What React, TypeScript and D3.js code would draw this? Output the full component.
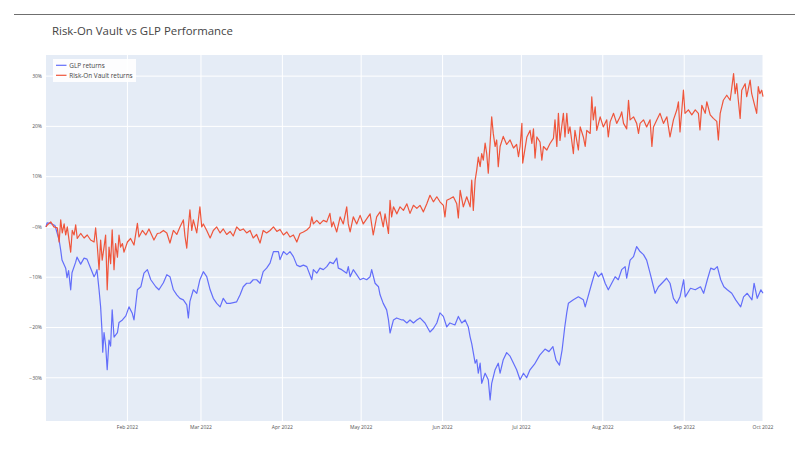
import React from "react";
import * as d3 from "d3";

// [day offset from 1 Jan 2022, return %]
const glpReturns: [number, number][] = [
  [0, 0], [0.4, 0.8], [1.9, 0.7], [3.4, 0.3], [5.0, -2.6], [5.6, -4.6], [6.1, -6.6], [7.5, -8.2], [8.0, -10.1], [8.6, -8.7],
  [9.4, -12.5], [9.9, -9.1], [11.3, -7], [11.8, -6], [13.2, -7.4], [14.5, -6.2], [15.6, -6.4], [17.0, -8.2], [18.3, -9.9], [18.9, -9.3],
  [19.4, -8.5], [20.2, -12.5], [20.8, -15.9], [21.3, -20.5], [21.6, -24.9], [22.1, -21], [22.7, -23.5], [23.3, -28.4], [24.0, -22.5], [24.6, -23.7],
  [25.2, -16.5], [25.9, -21.9], [27.2, -21], [27.8, -19], [29.1, -18.5], [30.4, -17.7], [31.6, -15.9], [32.8, -17.1], [33.5, -18.5], [34.8, -12.5],
  [36.1, -11.9], [37.3, -9.2], [38.6, -8.5], [39.9, -10.5], [41.8, -11.9], [43.0, -12.5], [44.7, -11.1], [46.0, -9.5], [47.2, -9.9], [48.5, -12.5],
  [49.8, -13.5], [51.0, -14.2], [52.3, -14.5], [53.6, -15.5], [54.2, -18.1], [54.8, -14.8], [56.1, -12.5], [57.4, -13.2], [58.6, -10.5], [59.9, -8.9],
  [61.2, -9.9], [62.5, -12.5], [63.7, -14.2], [65.0, -15.2], [66.3, -15.9], [67.5, -14.2], [68.8, -15.2], [70.1, -15.2], [72.6, -14.9], [73.9, -13.5],
  [75.1, -11.9], [76.4, -11.2], [77.7, -11.2], [78.9, -10.5], [80.2, -10.5], [81.5, -11.2], [82.7, -8.9], [84.0, -8.2], [85.3, -7.2], [86.6, -4.9],
  [88.5, -4.9], [89.1, -6.5], [90.4, -4.9], [91.7, -5.5], [92.9, -4.9], [94.2, -5.9], [95.5, -7.6], [96.7, -7.9], [98.0, -7.6], [99.3, -7.9],
  [101.2, -10.5], [101.8, -8.5], [103.1, -9.2], [104.3, -8.2], [105.6, -8.5], [106.9, -7.9], [108.1, -7.0], [109.4, -7.3], [110.7, -6.2], [111.3, -8.2],
  [112.6, -8.5], [114.5, -9.2], [115.1, -7.9], [115.8, -9.9], [117.0, -8.5], [118.3, -9.5], [119.6, -10.5], [120.8, -10.2], [122.1, -10.5], [123.4, -9.9],
  [124.0, -8.5], [125.3, -11.2], [126.6, -11.9], [127.2, -13.5], [128.4, -15.2], [129.7, -16.5], [130.4, -18.5], [131.0, -21.1], [132.3, -18.5], [133.5, -18.1],
  [135.5, -18.5], [136.1, -18.5], [137.4, -19.1], [138.6, -18.5], [139.9, -19.1], [141.2, -18.5], [142.4, -18.1], [144.3, -19.1], [146.2, -20.9], [147.5, -20.2],
  [148.8, -19.1], [150.0, -17.1], [151.3, -17.8], [152.6, -19.9], [153.8, -19.1], [155.7, -19.5], [157.0, -17.8], [158.3, -19.1], [159.6, -18.5], [160.8, -19.9],
  [161.5, -21.9], [162.1, -23.2], [163.4, -27.1], [164.0, -26.4], [164.6, -29.1], [165.3, -27.1], [165.9, -31.1], [167.2, -29.1], [168.4, -30.4], [169.1, -34.4],
  [169.7, -31.1], [171.0, -28.4], [172.2, -27.1], [172.9, -29.1], [174.1, -26.4], [175.4, -25.0], [176.7, -25.7], [178.0, -27.1], [179.2, -28.4], [180.5, -30.4],
  [181.8, -29.1], [183.0, -30.0], [184.2, -28.5], [186.0, -27.3], [188.0, -25.5], [190.0, -24.3], [191.5, -24.8], [193.0, -23.8], [194.2, -26.5], [195.5, -27.5],
  [196.5, -24.5], [197.5, -20], [198.3, -17], [198.9, -15.2], [200.8, -14.5], [202.7, -13.9], [204.6, -14.5], [205.3, -15.9], [207.8, -11.2], [209.1, -8.9],
  [210.3, -9.9], [211.6, -9.2], [212.9, -11.2], [214.1, -12.5], [215.4, -11.2], [216.7, -9.9], [217.9, -10.5], [219.2, -8.5], [220.5, -7.9], [221.1, -10.2],
  [222.4, -6.6], [223.7, -5.9], [224.9, -3.9], [226.2, -4.9], [227.5, -5.5], [228.7, -6.6], [230.0, -9.2], [231.3, -11.9], [231.9, -13.2], [233.2, -11.9],
  [234.5, -11.2], [236.3, -10.2], [237.6, -11.2], [238.9, -14.2], [240.2, -15.2], [241.4, -13.9], [242.8, -10.5], [243.4, -13.9], [245.4, -12.2], [247.2, -12.5],
  [249.2, -11.9], [250.4, -13.2], [251.8, -10.5], [253.1, -8.2], [254.4, -8.5], [255.6, -7.9], [256.9, -10.5], [258.1, -11.9], [259.4, -12.5], [261.1, -13.2],
  [262.6, -14.5], [264.5, -15.9], [265.6, -13.9], [267.0, -13.2], [268.8, -14.5], [269.6, -11.2], [270.8, -14.2], [272.2, -12.5], [273.0, -13.2],
];

const vaultReturns: [number, number][] = [
  [0, 0], [0.5, 0.4], [1.8, 1.0], [3.0, 0], [4.3, -0.2], [5.0, -3], [5.6, 1.4], [6.2, -1.2], [6.9, 0.6], [7.5, -1.6],
  [8.1, 0], [9.4, -5], [10.0, -0.7], [10.7, -1.6], [11.3, 0.4], [11.9, -2.3], [13.2, -1.3], [14.5, -2.2], [15.7, -1.6], [17.0, -2.6],
  [18.3, -3], [18.9, -0.2], [19.5, -3.6], [20.2, -8.5], [20.8, -2.6], [21.4, -6.6], [22.1, -4], [22.7, -1.6], [23.3, -12.5], [24.0, -4],
  [24.6, -7.3], [25.2, -0.6], [25.9, -8.5], [26.5, -3.3], [27.2, -6], [27.8, -1.6], [28.4, -4], [29.1, -3.3], [29.7, -5], [31.0, -3],
  [32.2, -2.3], [33.5, -3.6], [34.8, 0.7], [35.4, -2], [36.7, -0.7], [38.0, -1.6], [39.2, -0.4], [41.1, -2.6], [42.4, -1.3], [43.4, -1.2],
  [44.7, -0.7], [46.0, -1.2], [47.2, -3.2], [48.5, -0.7], [49.8, -1.5], [51.0, 0], [52.3, 1.4], [52.9, -1.8], [53.6, -4.2], [54.2, 0],
  [54.8, 3.4], [55.5, -0.7], [56.1, 1.4], [57.4, -1.2], [58.6, 4.0], [59.3, 0], [59.9, 0.6], [61.2, -0.7], [62.5, -2.2], [63.7, -0.7],
  [65.0, 0], [66.3, -1.2], [67.5, -0.4], [68.8, -1.5], [70.1, -0.9], [71.3, -1.8], [72.6, 0], [73.9, -0.7], [75.1, -0.4], [76.4, -1.2],
  [77.7, -0.7], [78.9, -2.2], [80.2, -1.5], [81.5, -3.2], [82.7, -0.7], [84.0, -1.2], [85.3, -0.7], [86.6, 0], [87.9, -0.9], [89.1, -0.5],
  [90.4, -1.6], [91.7, -1], [92.9, -2], [94.2, -1.6], [95.5, -3], [96.7, -1.3], [98.0, -1], [99.3, -0.6], [100.5, 0], [101.2, 2],
  [101.8, 0.6], [103.1, 1.3], [104.3, 0.6], [105.6, 1.3], [106.9, 1], [108.1, 2.7], [108.8, 0], [109.4, 1], [110.7, -1.0], [112.0, 2],
  [113.2, 0.6], [114.5, 4], [115.1, 0.6], [115.8, -1], [117.0, 2], [118.3, 0.6], [119.6, 2.3], [120.8, 0.6], [122.1, 1.6], [123.4, 2.6],
  [124.6, -1.6], [125.9, 2], [127.2, 3], [128.4, 0], [129.1, 2.6], [130.4, -1.3], [131.0, 5.3], [131.6, 2], [132.3, 4], [133.6, 2.6],
  [134.8, 4], [136.1, 3.3], [137.4, 4.6], [138.6, 2.7], [139.9, 4.3], [141.2, 3.7], [142.4, 4.3], [143.7, 3], [145.0, 4.6], [146.2, 6.3],
  [147.5, 5], [148.8, 6], [150.0, 5], [151.3, 4.3], [151.9, 2], [152.6, 5.3], [153.8, 5.6], [155.1, 6], [156.4, 4.6], [157.0, 1.8],
  [157.7, 7.3], [158.9, 4], [160.2, 6], [161.5, 4], [162.1, 9.3], [162.7, 3.3], [163.4, 9.3], [164.0, 11.3], [164.6, 13.9], [165.3, 12],
  [165.9, 14.6], [166.5, 13.3], [167.2, 16.7], [167.8, 14.6], [168.4, 10.7], [169.1, 16.7], [169.7, 21.9], [170.3, 18.6], [171.0, 16], [171.6, 17.3],
  [172.2, 12], [172.9, 16], [174.1, 18], [175.4, 16.4], [176.7, 17.3], [178.0, 15.7], [179.2, 16.4], [179.9, 14], [180.5, 16], [181.2, 20.6],
  [181.5, 12.7], [183.1, 17.9], [184.3, 19.2], [185.0, 16.6], [185.6, 19.5], [186.2, 13.7], [186.9, 17.9], [188.1, 16.9], [188.8, 13.3], [189.4, 16],
  [190.7, 15.3], [191.9, 16.6], [193.2, 17.6], [193.8, 21.3], [194.5, 16], [195.1, 22.6], [195.7, 17.2], [197.0, 22.6], [197.6, 17.9], [198.3, 22.6],
  [198.9, 18.6], [199.5, 19.9], [200.8, 14.6], [201.4, 19.2], [202.7, 15.3], [203.4, 19.9], [204.6, 17.9], [205.3, 16], [205.9, 19.2], [207.2, 18.6],
  [207.8, 25.9], [208.4, 21.3], [209.1, 23.9], [209.7, 19.2], [211.0, 21.9], [212.2, 19.9], [213.5, 21.3], [214.1, 17.9], [214.8, 20.9], [216.1, 22.6],
  [217.3, 20.6], [218.6, 21.9], [219.2, 22.9], [219.9, 20.6], [221.1, 19.5], [221.8, 25.2], [222.4, 21.3], [223.7, 21.9], [224.9, 20.6], [225.6, 18.6],
  [226.2, 20.6], [227.5, 21.3], [228.7, 19.9], [230.0, 21.3], [230.7, 16], [231.3, 19.9], [232.6, 21.3], [233.8, 22.6], [235.1, 20.6], [236.4, 21.9],
  [237.6, 17.9], [238.9, 21.3], [240.2, 23.3], [240.8, 24.9], [241.4, 18.9], [242.1, 23.3], [242.7, 27.2], [243.3, 22.6], [244.6, 23.3], [245.9, 22.3],
  [247.2, 23.3], [248.4, 22.6], [249.0, 19.3], [249.7, 24.2], [251.0, 22.6], [251.6, 24.9], [252.9, 22.3], [254.1, 21.6], [255.4, 21], [256.0, 17.3],
  [256.7, 22.6], [257.3, 23.9], [257.9, 25.2], [259.2, 26.2], [260.5, 25.2], [261.8, 30.5], [262.4, 26.5], [263.0, 28.5], [263.6, 25.2], [264.3, 21.6],
  [264.9, 27.2], [266.2, 28.5], [266.8, 25.9], [268.1, 29.2], [268.7, 26.5], [270.6, 22.6], [271.2, 27.9], [271.8, 26.5], [272.5, 27.2], [273.0, 25.9],
];

const yTickValues = [-30, -20, -10, 0, 10, 20, 30];
const yTickLabels = ["−30%", "−20%", "−10%", "−0%", "10%", "20%", "30%"];
const seriesNames = ["GLP returns", "Risk-On Vault returns"];
const seriesColors = ["#636efa", "#ef553b"];

const W = 805;
const H = 453;
const margin = { top: 55, right: 42, bottom: 32, left: 46 };
const font = "'Open Sans', 'Noto Sans', sans-serif";

const start = new Date(2022, 0, 1);
const end = new Date(2022, 9, 1);
const toDate = (day: number) => new Date(start.getTime() + day * 86400000);

export default function App() {
  const x = d3.scaleTime().domain([start, end]).range([margin.left, W - margin.right]);
  const y = d3.scaleLinear().domain([-38.6, 34.2]).range([H - margin.bottom, margin.top]);

  const line = d3
    .line<[number, number]>()
    .x((d) => x(toDate(d[0])))
    .y((d) => y(d[1]));

  const monthTicks = d3.timeMonth.range(new Date(2022, 1, 1), new Date(2022, 9, 2));
  const fmt = d3.timeFormat("%b %Y");
  const [x0, x1] = x.range();
  const [y0, y1] = y.range();

  return (
    <div style={{ position: "fixed", left: 0, top: 0 }}>
      <svg width={W} height={H} style={{ display: "block", background: "#fff" }}>
        <line x1={14} x2={795} y1={14.5} y2={14.5} stroke="#6f6f6f" strokeWidth={1} />
        <text x={52} y={35} fontFamily={font} fontSize={11.4} fill="#444">
          Risk-On Vault vs GLP Performance
        </text>

        <rect x={x0} y={y1} width={x1 - x0} height={y0 - y1} fill="#e5ecf6" />

        {monthTicks.map((m) => (
          <line key={+m} x1={x(m)} x2={x(m)} y1={y1} y2={y0} stroke="#fff" strokeWidth={1} />
        ))}
        {yTickValues.map((v) => (
          <line key={v} x1={x0} x2={x1} y1={y(v)} y2={y(v)} stroke="#fff" strokeWidth={v === 0 ? 1.6 : 1} />
        ))}

        <path d={line(glpReturns) || ""} fill="none" stroke={seriesColors[0]} strokeWidth={1.2} strokeLinejoin="round" />
        <path d={line(vaultReturns) || ""} fill="none" stroke={seriesColors[1]} strokeWidth={1.2} strokeLinejoin="round" />

        {yTickValues.map((v, i) => (
          <text key={v} x={x0 - 4} y={y(v)} dy="0.35em" textAnchor="end" fontFamily={font} fontSize={5} fill="#555">
            {yTickLabels[i]}
          </text>
        ))}
        {monthTicks.map((m) => (
          <text key={+m} x={x(m)} y={y0 + 7.5} textAnchor="middle" fontFamily={font} fontSize={5} fill="#555">
            {fmt(m)}
          </text>
        ))}

        <g transform="translate(53,59)">
          <rect width={83} height={23} fill="#fff" fillOpacity={0.9} />
          {seriesNames.map((name, i) => (
            <g key={name} transform={`translate(0,${6.3 + i * 10})`}>
              <line x1={3} x2={13.5} stroke={seriesColors[i]} strokeWidth={1.2} />
              <text x={16.3} dy="0.35em" fontFamily={font} fontSize={6.4} fill="#444">
                {name}
              </text>
            </g>
          ))}
        </g>
      </svg>
    </div>
  );
}
